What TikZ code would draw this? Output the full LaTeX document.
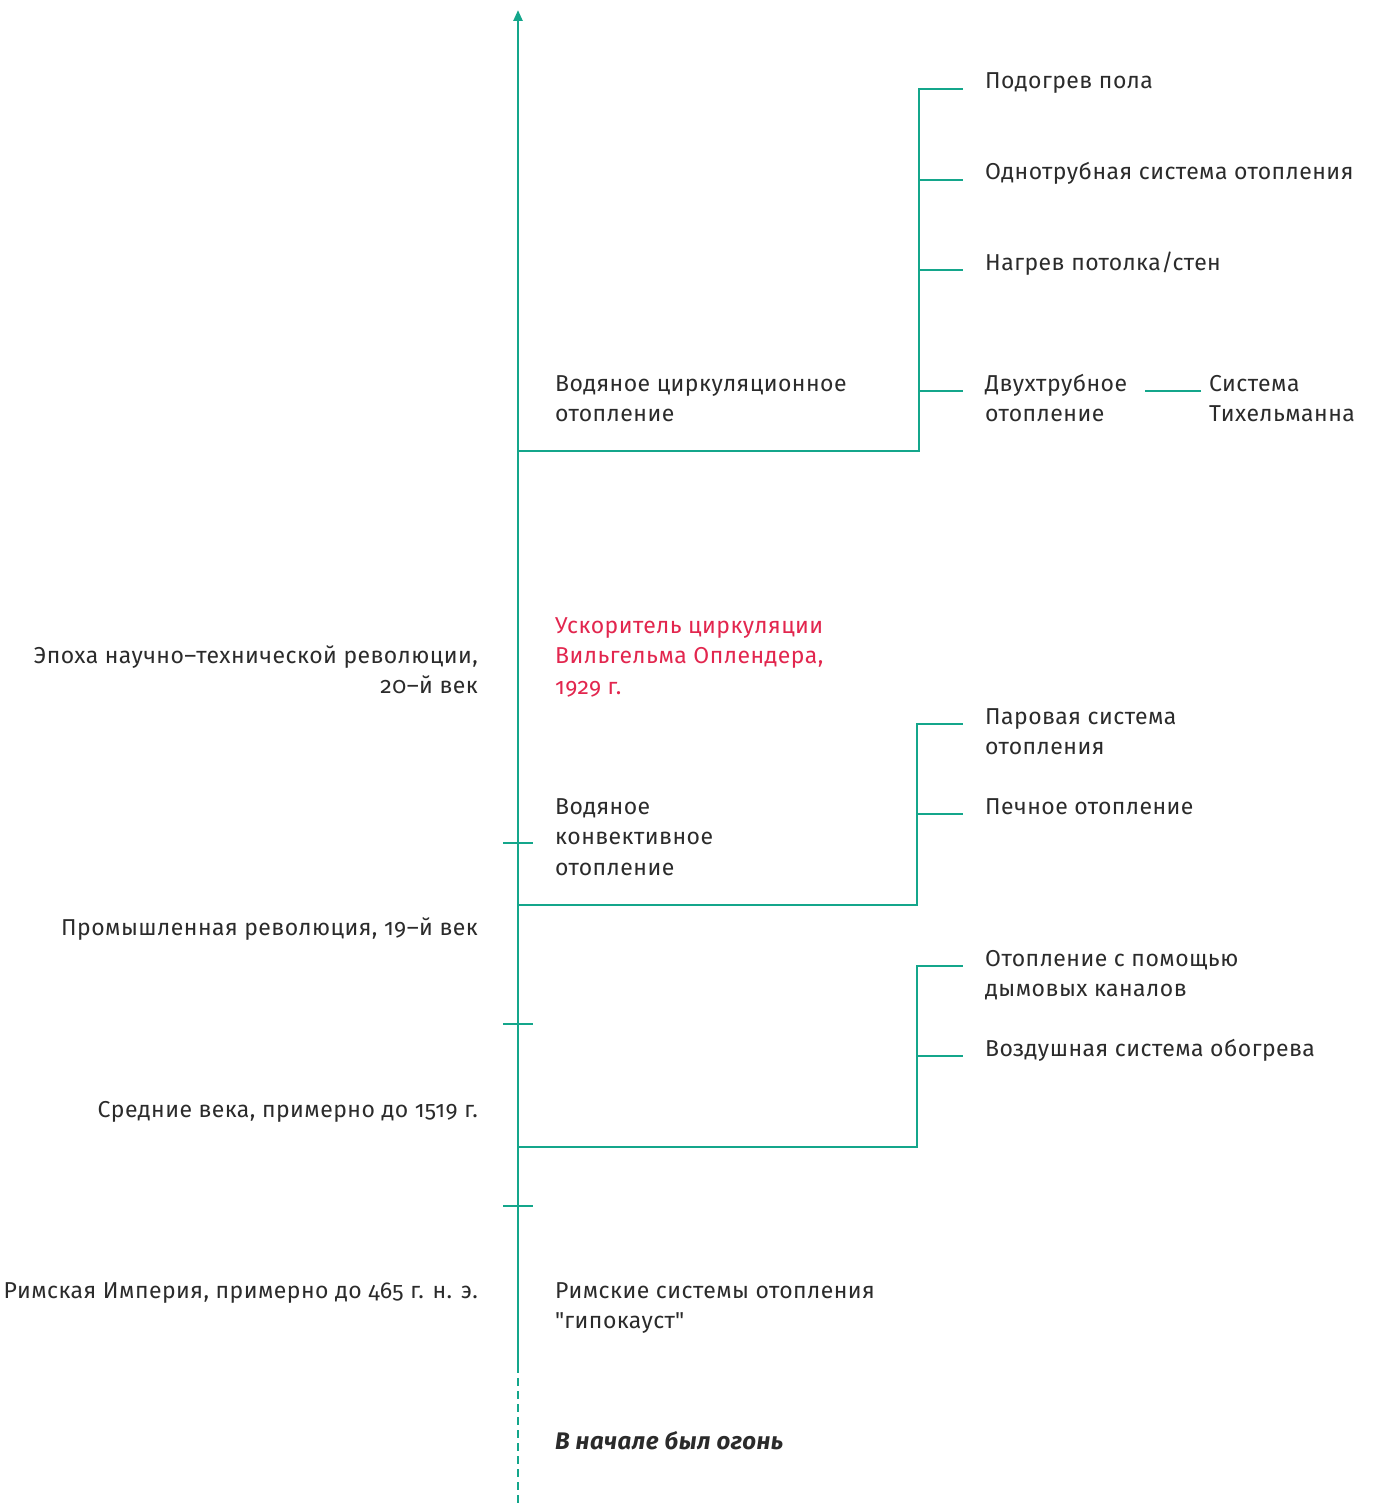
\documentclass[tikz,border=0pt]{standalone}
\usepackage{fontspec}
\setmainfont{Fira Sans}[Numbers=OldStyle,LetterSpace=2]
\newfontfamily\quotefont{Fira Sans}[LetterSpace=2]
\usetikzlibrary{arrows.meta}
\definecolor{g1}{HTML}{14A68B}
\definecolor{r1}{HTML}{E2264E}
\definecolor{t1}{HTML}{2B2B2B}

\begin{document}
\begin{tikzpicture}[x=1pt,y=-1pt,
	line/.style={g1,line width=2.4pt},
	lbl/.style={anchor=base west,align=left,inner sep=0pt,text=t1,font=\fontsize{23}{30.5}\selectfont},
	lft/.style={lbl,anchor=base east,align=right}]
	\useasboundingbox (0,0) rectangle (1374,1506);

	% time axis
	\coordinate (top) at (518,10);
	\coordinate (solid) at (518,1365);
	\coordinate (bot) at (518,1506);
	\draw [line,-{Triangle[width=9pt,length=11pt]}] (solid) -- (top);
	\draw [line,dash pattern=on 8pt off 5pt] (solid) -- (bot);
	\foreach \y in {843,1024,1206}
		\draw [line] (503,\y) -- (533,\y);

	% epochs (base = last line)
	\node[lft] (epo) at (478,693.5) {Эпоха научно--технической революции,\\20--й век};
	\node[lft] (prom) at (478,935) {Промышленная революция, 19--й век};
	\node[lft] (sred) at (478,1117) {Средние века, примерно до 1519 г.};
	\node[lft] (rim) at (478,1298) {Римская Империя, примерно до 465 г. н. э.};

	% systems along the axis
	\node[lbl] (vcirc) at (555,421.5) {Водяное циркуляционное\\отопление};
	\node[lbl,text=r1] (usk) at (555,694) {Ускоритель циркуляции\\Вильгельма Оплендера,\\1929 г.};
	\node[lbl] (vkonv) at (555,875) {Водяное\\конвективное\\отопление};
	\node[lbl] (gipo) at (555,1328.5) {Римские системы отопления\\{\quotefont"}гипокауст{\quotefont"}};
	\node[lbl,font=\fontsize{24}{30.5}\selectfont\bfseries\itshape] (ogon) at (555,1449) {В начале был огонь};

	% branch: water circulation
	\coordinate (b1) at (518,451);
	\coordinate (k1) at (919,451);
	\node[lbl] (pola) at (985,89) {Подогрев пола};
	\node[lbl] (odno) at (985,180) {Однотрубная система отопления};
	\node[lbl] (potol) at (985,270) {Нагрев потолка/стен};
	\node[lbl] (dvuh) at (985,421.5) {Двухтрубное\\отопление};
	\node[lbl] (tih) at (1209,421.5) {Система\\Тихельманна};
	\draw [line] (b1) -- (k1) |- ([xshift=-22pt]pola.base west);
	\draw [line] (919,180) -- ([xshift=-22pt]odno.base west);
	\draw [line] (919,270) -- ([xshift=-22pt]potol.base west);
	\draw [line] (919,391) -- ([xshift=-22pt,yshift=30.5pt]dvuh.base west);
	\draw [line] ([xshift=-8pt,yshift=30.5pt]tih.base west) -- ++(-56,0);

	% branch: water convection
	\coordinate (b2) at (518,905);
	\coordinate (k2) at (917,905);
	\node[lbl] (par) at (985,754.5) {Паровая система\\отопления};
	\node[lbl] (pech) at (985,814) {Печное отопление};
	\draw [line] (b2) -- (k2) |- ([xshift=-22pt,yshift=30.5pt]par.base west);
	\draw [line] (917,814) -- ([xshift=-22pt]pech.base west);

	% branch: middle ages
	\coordinate (b3) at (518,1147);
	\coordinate (k3) at (917,1147);
	\node[lbl] (dym) at (985,996.5) {Отопление с помощью\\дымовых каналов};
	\node[lbl] (vozd) at (985,1056) {Воздушная система обогрева};
	\draw [line] (b3) -- (k3) |- ([xshift=-22pt,yshift=30.5pt]dym.base west);
	\draw [line] (917,1056) -- ([xshift=-22pt]vozd.base west);
\end{tikzpicture}
\end{document}
